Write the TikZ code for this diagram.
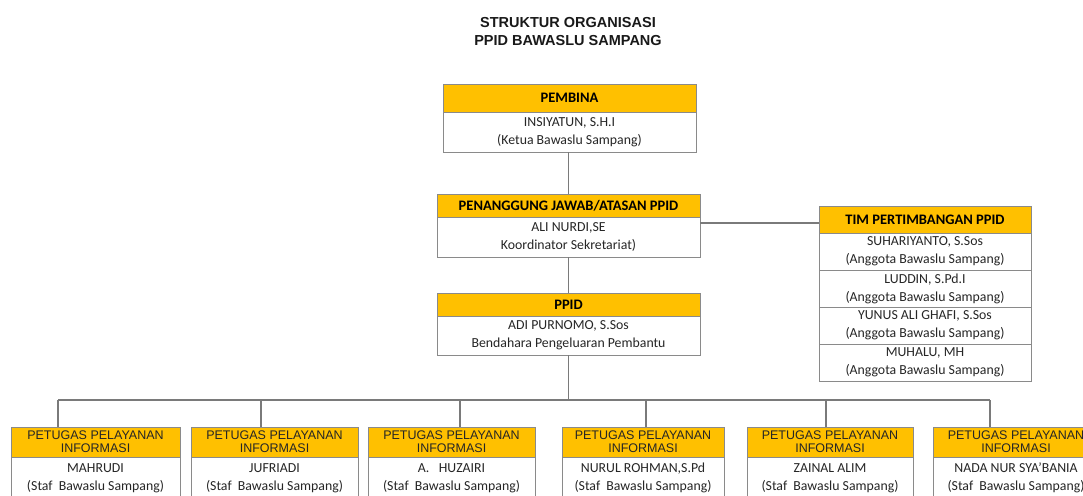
\documentclass[tikz,border=0pt]{standalone}
\usepackage{fontspec}
\setmainfont{Carlito}
\newfontfamily\arialf{Liberation Sans}
\usetikzlibrary{calc}
\definecolor{hdr}{HTML}{FFC000}
\definecolor{edgec}{HTML}{8A8A8A}
\definecolor{wire}{HTML}{7A7A7A}
\definecolor{ink}{HTML}{262626}
\begin{document}
\begin{tikzpicture}[x=1pt,y=-1pt,
  hbox/.style={draw=edgec,line width=0.8pt,fill=hdr,inner sep=0pt,outer sep=0pt,anchor=north west,
     text=black,font=\fontsize{14.5}{16}\selectfont\bfseries},
  pbox/.style={draw=edgec,line width=0.8pt,fill=hdr,inner sep=0pt,outer sep=0pt,anchor=north west,
     text=ink,align=center,font=\arialf\fontsize{12.5}{13}\selectfont},
  bbox/.style={draw=edgec,line width=0.8pt,fill=white,inner sep=0pt,outer sep=0pt,anchor=north west,
     text=ink,align=center,font=\fontsize{13.8}{18}\selectfont},
  wirel/.style={draw=wire,line width=1.3pt},
]
\useasboundingbox (0,0) rectangle (1083,495);
\fill[white] (0,0) rectangle (1083,495);
\clip (0,0) rectangle (1083,495);

% title
\node[font=\arialf\bfseries\fontsize{14.5}{18}\selectfont,align=center,text=black!90] (title) at (568,32)
  {STRUKTUR ORGANISASI\\PPID BAWASLU SAMPANG};

% PEMBINA
\node[hbox,minimum width=253pt,minimum height=28pt] (pemH) at (443,84) {PEMBINA};
\node[bbox,minimum width=253pt,minimum height=40pt] (pemB) at (443,112)
  {INSIYATUN, S.H.I\\(Ketua Bawaslu Sampang)};

% PENANGGUNG JAWAB
\node[hbox,minimum width=263pt,minimum height=23pt] (penH) at (437,194) {PENANGGUNG JAWAB/ATASAN PPID};
\node[bbox,minimum width=263pt,minimum height=40pt] (penB) at (437,217)
  {ALI NURDI,SE\\Koordinator Sekretariat)};

% PPID
\node[hbox,minimum width=263pt,minimum height=23pt] (ppidH) at (437,293) {PPID};
\node[bbox,minimum width=263pt,minimum height=39pt] (ppidB) at (437,316)
  {ADI PURNOMO, S.Sos\\Bendahara Pengeluaran Pembantu};

% TIM PERTIMBANGAN
\node[hbox,minimum width=212pt,minimum height=27pt] (timH) at (819,206) {TIM PERTIMBANGAN PPID};
\node[bbox,minimum width=212pt,minimum height=37pt] (timR1) at (819,233)
  {SUHARIYANTO, S.Sos\\(Anggota Bawaslu Sampang)};
\node[bbox,minimum width=212pt,minimum height=37pt] (timR2) at (819,270)
  {LUDDIN, S.Pd.I\\(Anggota Bawaslu Sampang)};
\node[bbox,minimum width=212pt,minimum height=37pt] (timR3) at (819,307)
  {YUNUS ALI GHAFI, S.Sos\\(Anggota Bawaslu Sampang)};
\node[bbox,minimum width=212pt,minimum height=37pt] (timR4) at (819,344)
  {MUHALU, MH\\(Anggota Bawaslu Sampang)};

% bottom row
\node[pbox,minimum width=169pt,minimum height=30pt] (b1H) at (11,427) {PETUGAS PELAYANAN\\INFORMASI};
\node[bbox,minimum width=169pt,minimum height=42pt] (b1B) at (11,457) {MAHRUDI\\(Staf~ Bawaslu Sampang)};
\node[pbox,minimum width=167pt,minimum height=30pt] (b2H) at (191,427) {PETUGAS PELAYANAN\\INFORMASI};
\node[bbox,minimum width=167pt,minimum height=42pt] (b2B) at (191,457) {JUFRIADI\\(Staf~ Bawaslu Sampang)};
\node[pbox,minimum width=167pt,minimum height=30pt] (b3H) at (368,427) {PETUGAS PELAYANAN\\INFORMASI};
\node[bbox,minimum width=167pt,minimum height=42pt] (b3B) at (368,457) {A.~~ HUZAIRI\\(Staf~ Bawaslu Sampang)};
\node[pbox,minimum width=162pt,minimum height=30pt] (b4H) at (562,427) {PETUGAS PELAYANAN\\INFORMASI};
\node[bbox,minimum width=162pt,minimum height=42pt] (b4B) at (562,457) {NURUL ROHMAN,S.Pd\\(Staf~ Bawaslu Sampang)};
\node[pbox,minimum width=166pt,minimum height=30pt] (b5H) at (747,427) {PETUGAS PELAYANAN\\INFORMASI};
\node[bbox,minimum width=166pt,minimum height=42pt] (b5B) at (747,457) {ZAINAL ALIM\\(Staf~ Bawaslu Sampang)};
\node[pbox,minimum width=166pt,minimum height=30pt] (b6H) at (933,427) {PETUGAS PELAYANAN\\INFORMASI};
\node[bbox,minimum width=166pt,minimum height=42pt] (b6B) at (933,457) {NADA NUR SYA'BANIA\\(Staf~ Bawaslu Sampang)};

% connectors
\draw[wirel] (penH.north) -- (penH.north |- pemB.south);
\draw[wirel] (penB.south) -- (ppidH.north);
\coordinate (tj) at (700,223);
\draw[wirel] (tj) -- (tj -| timH.west);

\coordinate (bus) at (0,400);
\coordinate (d1) at (58,400);
\coordinate (d2) at (261,400);
\coordinate (d3) at (460,400);
\coordinate (d4) at (646,400);
\coordinate (d5) at (826,400);
\coordinate (d6) at (990,400);
\draw[wirel] (ppidB.south) -- (ppidB.south |- bus);
\draw[wirel] (d1) -- (d6);
\draw[wirel] (d1) -- (d1 |- b1H.north);
\draw[wirel] (d2) -- (d2 |- b2H.north);
\draw[wirel] (d3) -- (d3 |- b3H.north);
\draw[wirel] (d4) -- (d4 |- b4H.north);
\draw[wirel] (d5) -- (d5 |- b5H.north);
\draw[wirel] (d6) -- (d6 |- b6H.north);
\end{tikzpicture}
\end{document}
